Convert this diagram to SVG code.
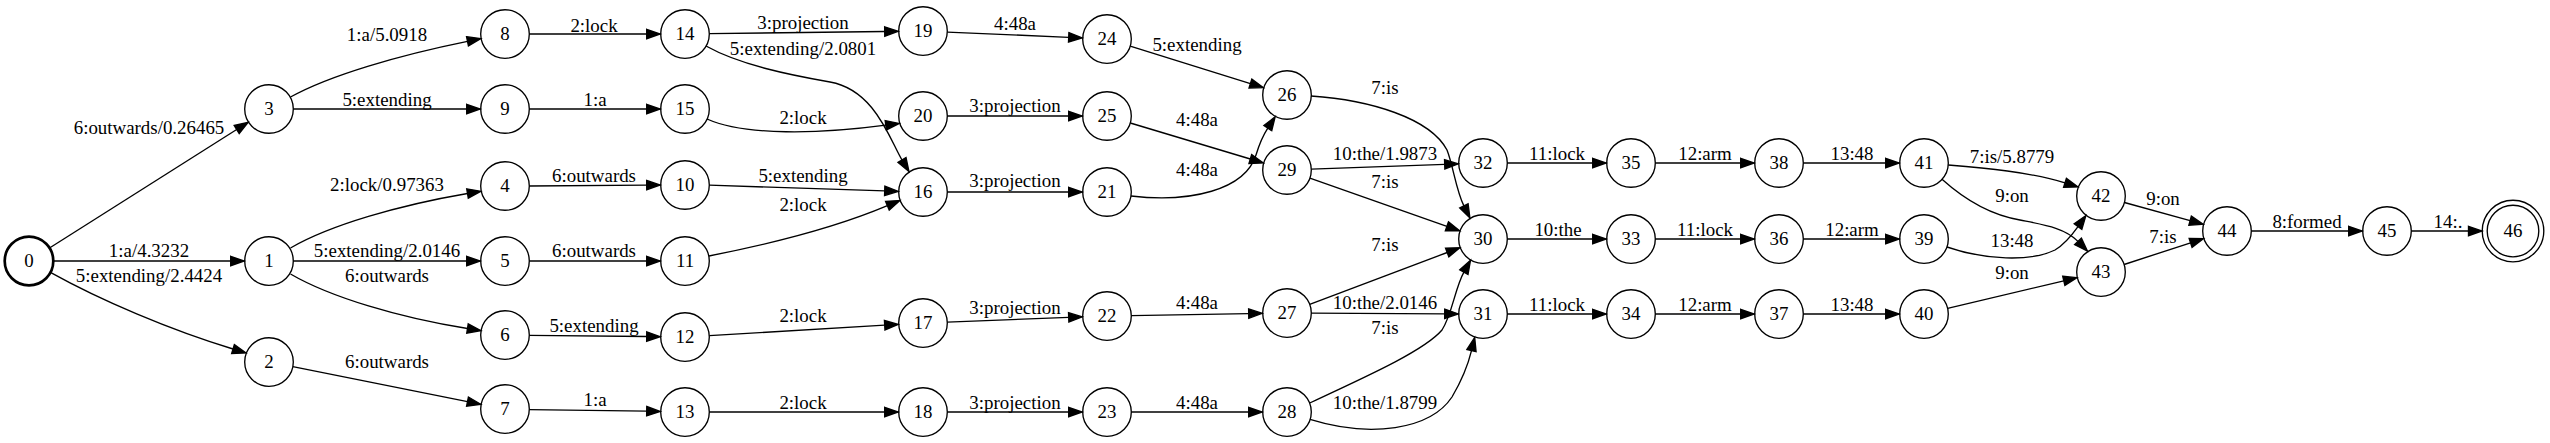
<svg xmlns="http://www.w3.org/2000/svg" width="2550" height="443" viewBox="0 0 2550 443">
<style>
.n{fill:none;stroke:#000;stroke-width:1.35}
.b{stroke-width:2.7}
.e{fill:none;stroke:#000;stroke-width:1.35;marker-end:url(#ah)}
text{font-family:"Liberation Serif","Times New Roman",serif;font-size:18.9px;text-anchor:middle;fill:#000}
</style>
<defs>
<marker id="ah" markerUnits="userSpaceOnUse" viewBox="-2 -7 18 14" markerWidth="18" markerHeight="14" refX="0" refY="0" orient="auto">
<polygon points="0,-4.7 13.5,0 0,4.7" fill="#000" stroke="#000" stroke-width="1.35"/>
</marker>
</defs>
<rect width="2550" height="443" fill="#fff"/>
<g id="edges">
<path class="e" d="M49.5,248 L236.7,129.5"/><text x="149" y="134">6:outwards/0.26465</text>
<path class="e" d="M53.3,261 L230.7,261"/><text x="149" y="257">1:a/4.3232</text>
<path class="e" d="M50.4,272.4 C100,300 170,330 233,349"/><text x="149" y="282">5:extending/2.4424</text>
<path class="e" d="M290.5,97 C330,75 400,55 467.5,41.3"/><text x="387" y="40.5">1:a/5.0918</text>
<path class="e" d="M293.3,109 L466.7,109"/><text x="387" y="106">5:extending</text>
<path class="e" d="M290.5,248 C330,225 400,205 467.5,193.5"/><text x="387" y="190.5">2:lock/0.97363</text>
<path class="e" d="M293.3,261 L466.7,261"/><text x="387" y="256.7">5:extending/2.0146</text>
<path class="e" d="M290.5,274 C330,297 400,318 467.5,328.5"/><text x="387" y="281.7">6:outwards</text>
<path class="e" d="M292.8,366.7 L467.5,401.6"/><text x="387" y="367.7">6:outwards</text>
<path class="e" d="M529.3,34 L646.7,34"/><text x="594" y="31.7">2:lock</text>
<path class="e" d="M529.3,109 L646.7,109"/><text x="595" y="105.7">1:a</text>
<path class="e" d="M529.3,186 L646.7,185.1"/><text x="594" y="181.7">6:outwards</text>
<path class="e" d="M529.3,261 L646.7,261"/><text x="594" y="256.7">6:outwards</text>
<path class="e" d="M529.3,335.3 L646.7,336.5"/><text x="594" y="331.7">5:extending</text>
<path class="e" d="M529.3,409.6 L646.7,411.2"/><text x="595" y="406">1:a</text>
<path class="e" d="M709.3,33.7 L884.7,31.5"/><text x="803" y="28.5">3:projection</text>
<path class="e" d="M706,46 C740,65 790,75 830,82 C875,90 890,140 902,160"/><text x="803" y="54.5">5:extending/2.0801</text>
<path class="e" d="M707,119 C745,136 820,134 885.8,125.2"/><text x="803" y="124">2:lock</text>
<path class="e" d="M709.3,185.2 L884.7,190.9"/><text x="803" y="181.7">5:extending</text>
<path class="e" d="M709,256 C760,246 830,230 887.4,205.7"/><text x="803" y="211">2:lock</text>
<path class="e" d="M709.3,335.6 L884.7,325.2"/><text x="803" y="321.7">2:lock</text>
<path class="e" d="M709.3,412 L884.7,412"/><text x="803" y="409">2:lock</text>
<path class="e" d="M947.3,192 L1068.7,192"/><text x="1015" y="187.3">3:projection</text>
<path class="e" d="M947.3,322.1 L1068.7,317.4"/><text x="1015" y="314">3:projection</text>
<path class="e" d="M947.3,412 L1068.7,412"/><text x="1015" y="409">3:projection</text>
<path class="e" d="M947.3,32.1 L1068.7,37.3"/><text x="1015" y="30">4:48a</text>
<path class="e" d="M947.3,116 L1068.7,116"/><text x="1015" y="112.3">3:projection</text>
<path class="e" d="M1130.2,46.2 L1250.4,83.6"/><text x="1197" y="51">5:extending</text>
<path class="e" d="M1130.3,123 L1250.3,159"/><text x="1197" y="125.7">4:48a</text>
<path class="e" d="M1131,196 C1190,203 1245,190 1256,155 C1259,145 1262,137 1267.8,128.1"/><text x="1197" y="175.7">4:48a</text>
<path class="e" d="M1131.3,315.6 L1248.7,313.6"/><text x="1197" y="309.3">4:48a</text>
<path class="e" d="M1131.3,412 L1248.7,412"/><text x="1197" y="409">4:48a</text>
<path class="e" d="M1311,96 C1370,100 1430,118 1447,150 C1453,165 1456,190 1463.9,205.9"/><text x="1385" y="94.3">7:is</text>
<path class="e" d="M1311.3,169.1 L1444.7,164.4"/><text x="1385" y="160">10:the/1.9873</text>
<path class="e" d="M1309.9,178.1 L1446.9,226.3"/><text x="1385" y="188.3">7:is</text>
<path class="e" d="M1309.7,304.4 L1447.2,252.5"/><text x="1385" y="251">7:is</text>
<path class="e" d="M1311.3,313.1 L1444.7,313.8"/><text x="1385" y="309.3">10:the/2.0146</text>
<path class="e" d="M1309.6,403 C1370,375 1425,350 1442,330 C1452,315 1455,288 1463.9,272.1"/><text x="1385" y="334.3">7:is</text>
<path class="e" d="M1310,419.4 C1370,438 1430,430 1452,397 C1462,380 1468,365 1471.5,350.6"/><text x="1385" y="409">10:the/1.8799</text>
<path class="e" d="M1507.3,239 L1592.7,239"/><text x="1558" y="235.7">10:the</text>
<path class="e" d="M1507.3,314 L1592.7,314"/><text x="1557" y="311">11:lock</text>
<path class="e" d="M1507.3,163 L1592.7,163"/><text x="1557" y="160">11:lock</text>
<path class="e" d="M1655.3,163 L1740.7,163"/><text x="1705" y="160">12:arm</text>
<path class="e" d="M1655.3,239 L1740.7,239"/><text x="1705" y="235.7">11:lock</text>
<path class="e" d="M1655.3,314 L1740.7,314"/><text x="1705" y="311">12:arm</text>
<path class="e" d="M1803.3,163 L1885.7,163"/><text x="1852" y="160">13:48</text>
<path class="e" d="M1803.3,239 L1885.7,239"/><text x="1852" y="235.7">12:arm</text>
<path class="e" d="M1803.3,314 L1885.7,314"/><text x="1852" y="311">13:48</text>
<path class="e" d="M1948.2,165 C1985,168 2030,172 2065,182.9"/><text x="2012" y="163.3">7:is/5.8779</text>
<path class="e" d="M1942,179.3 C1965,200 1990,215 2020,220 C2045,225 2065,228 2078,241.4"/><text x="2012" y="201.7">9:on</text>
<path class="e" d="M1947,247 C1985,260 2030,262 2055,250 C2065,244 2072,235 2078,226.6"/><text x="2012" y="246.7">13:48</text>
<path class="e" d="M1947.6,308.4 L2063.8,280.8"/><text x="2012" y="279.3">9:on</text>
<path class="e" d="M2124.4,202.5 L2190.1,220.7"/><text x="2163" y="205">9:on</text>
<path class="e" d="M2124.1,264.5 L2190.6,242.8"/><text x="2163" y="243.3">7:is</text>
<path class="e" d="M2251.3,231 L2348.7,231"/><text x="2307" y="227.7">8:formed</text>
<path class="e" d="M2411.3,231 L2468.5,231"/><text x="2448" y="227.7">14:.</text>
</g>
<g id="node0"><circle class="n b" cx="29" cy="261" r="24.3"/><text x="29" y="267">0</text></g>
<g id="node1"><circle class="n" cx="269" cy="261" r="24.3"/><text x="269" y="267">1</text></g>
<g id="node2"><circle class="n" cx="269" cy="362" r="24.3"/><text x="269" y="368">2</text></g>
<g id="node3"><circle class="n" cx="269" cy="109" r="24.3"/><text x="269" y="115">3</text></g>
<g id="node4"><circle class="n" cx="505" cy="186" r="24.3"/><text x="505" y="192">4</text></g>
<g id="node5"><circle class="n" cx="505" cy="261" r="24.3"/><text x="505" y="267">5</text></g>
<g id="node6"><circle class="n" cx="505" cy="335" r="24.3"/><text x="505" y="341">6</text></g>
<g id="node7"><circle class="n" cx="505" cy="409" r="24.3"/><text x="505" y="415">7</text></g>
<g id="node8"><circle class="n" cx="505" cy="34" r="24.3"/><text x="505" y="40">8</text></g>
<g id="node9"><circle class="n" cx="505" cy="109" r="24.3"/><text x="505" y="115">9</text></g>
<g id="node10"><circle class="n" cx="685" cy="185" r="24.3"/><text x="685" y="191">10</text></g>
<g id="node11"><circle class="n" cx="685" cy="261" r="24.3"/><text x="685" y="267">11</text></g>
<g id="node12"><circle class="n" cx="685" cy="337" r="24.3"/><text x="685" y="343">12</text></g>
<g id="node13"><circle class="n" cx="685" cy="412" r="24.3"/><text x="685" y="418">13</text></g>
<g id="node14"><circle class="n" cx="685" cy="34" r="24.3"/><text x="685" y="40">14</text></g>
<g id="node15"><circle class="n" cx="685" cy="109" r="24.3"/><text x="685" y="115">15</text></g>
<g id="node16"><circle class="n" cx="923" cy="192" r="24.3"/><text x="923" y="198">16</text></g>
<g id="node17"><circle class="n" cx="923" cy="323" r="24.3"/><text x="923" y="329">17</text></g>
<g id="node18"><circle class="n" cx="923" cy="412" r="24.3"/><text x="923" y="418">18</text></g>
<g id="node19"><circle class="n" cx="923" cy="31" r="24.3"/><text x="923" y="37">19</text></g>
<g id="node20"><circle class="n" cx="923" cy="116" r="24.3"/><text x="923" y="122">20</text></g>
<g id="node21"><circle class="n" cx="1107" cy="192" r="24.3"/><text x="1107" y="198">21</text></g>
<g id="node22"><circle class="n" cx="1107" cy="316" r="24.3"/><text x="1107" y="322">22</text></g>
<g id="node23"><circle class="n" cx="1107" cy="412" r="24.3"/><text x="1107" y="418">23</text></g>
<g id="node24"><circle class="n" cx="1107" cy="39" r="24.3"/><text x="1107" y="45">24</text></g>
<g id="node25"><circle class="n" cx="1107" cy="116" r="24.3"/><text x="1107" y="122">25</text></g>
<g id="node26"><circle class="n" cx="1287" cy="95" r="24.3"/><text x="1287" y="101">26</text></g>
<g id="node27"><circle class="n" cx="1287" cy="313" r="24.3"/><text x="1287" y="319">27</text></g>
<g id="node28"><circle class="n" cx="1287" cy="412" r="24.3"/><text x="1287" y="418">28</text></g>
<g id="node29"><circle class="n" cx="1287" cy="170" r="24.3"/><text x="1287" y="176">29</text></g>
<g id="node30"><circle class="n" cx="1483" cy="239" r="24.3"/><text x="1483" y="245">30</text></g>
<g id="node31"><circle class="n" cx="1483" cy="314" r="24.3"/><text x="1483" y="320">31</text></g>
<g id="node32"><circle class="n" cx="1483" cy="163" r="24.3"/><text x="1483" y="169">32</text></g>
<g id="node33"><circle class="n" cx="1631" cy="239" r="24.3"/><text x="1631" y="245">33</text></g>
<g id="node34"><circle class="n" cx="1631" cy="314" r="24.3"/><text x="1631" y="320">34</text></g>
<g id="node35"><circle class="n" cx="1631" cy="163" r="24.3"/><text x="1631" y="169">35</text></g>
<g id="node36"><circle class="n" cx="1779" cy="239" r="24.3"/><text x="1779" y="245">36</text></g>
<g id="node37"><circle class="n" cx="1779" cy="314" r="24.3"/><text x="1779" y="320">37</text></g>
<g id="node38"><circle class="n" cx="1779" cy="163" r="24.3"/><text x="1779" y="169">38</text></g>
<g id="node39"><circle class="n" cx="1924" cy="239" r="24.3"/><text x="1924" y="245">39</text></g>
<g id="node40"><circle class="n" cx="1924" cy="314" r="24.3"/><text x="1924" y="320">40</text></g>
<g id="node41"><circle class="n" cx="1924" cy="163" r="24.3"/><text x="1924" y="169">41</text></g>
<g id="node42"><circle class="n" cx="2101" cy="196" r="24.3"/><text x="2101" y="202">42</text></g>
<g id="node43"><circle class="n" cx="2101" cy="272" r="24.3"/><text x="2101" y="278">43</text></g>
<g id="node44"><circle class="n" cx="2227" cy="231" r="24.3"/><text x="2227" y="237">44</text></g>
<g id="node45"><circle class="n" cx="2387" cy="231" r="24.3"/><text x="2387" y="237">45</text></g>
<g id="node46"><circle class="n" cx="2513" cy="231" r="25.8"/><circle class="n" cx="2513" cy="231" r="30.8"/><text x="2513" y="237">46</text></g>
</svg>
